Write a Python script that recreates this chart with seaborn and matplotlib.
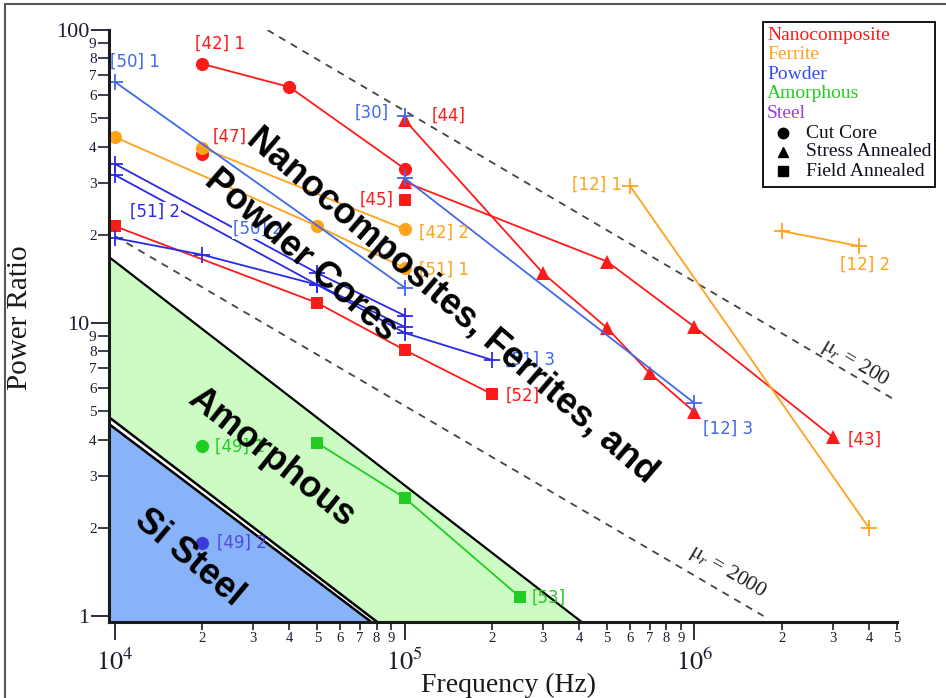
import numpy as np
import pandas as pd
import matplotlib
matplotlib.use("Agg")
import matplotlib.pyplot as plt
import seaborn as sns
from matplotlib.ticker import FixedLocator, FixedFormatter
from matplotlib.lines import Line2D
from matplotlib.patches import Rectangle

# ------------------------------------------------------------------ data
# Nanocomposite (red)
nc42_1_f = [2e4, 4e4, 1e5];            nc42_1_p = [76.6, 63.9, 33.6]
nc47_f = [2e4];                        nc47_p = [37.7]
nc43_f = [1e5, 5e5, 1e6, 3e6];         nc43_p = [30.3, 16.2, 9.7, 4.08]
nc44_f = [1e5, 3e5, 5e5, 7e5, 1e6];    nc44_p = [49.3, 14.8, 9.6, 6.75, 4.97]
nc45_f = [1e5];                        nc45_p = [26.3]
nc52_f = [1e4, 5e4, 1e5, 2e5];         nc52_p = [21.4, 11.7, 8.09, 5.72]
# Ferrite (orange)
fe42_2_f = [2e4, 1e5];                 fe42_2_p = [39.6, 20.9]
fe51_1_f = [1e4, 5e4, 1e5];            fe51_1_p = [43.1, 21.4, 15.4]
fe12_1_f = [6e5, 4e6];                 fe12_1_p = [29.3, 2.0]
fe12_2_f = [2e6, 3.7e6];               fe12_2_p = [20.6, 18.3]
# Powder (blue)
pw50_1_f = [1e4, 1e5];                 pw50_1_p = [66.5, 13.2]
pw30_f = [1e5];                        pw30_p = [50.9]
pw12_3_f = [1e5, 1e6];                 pw12_3_p = [31.2, 5.33]
pw51_2a_f = [1e4, 5e4, 1e5];           pw51_2a_p = [34.9, 14.8, 10.6]
pw50_2_f = [1e4, 5e4, 1e5];            pw50_2_p = [32.0, 13.5, 9.7]
pw51_3_f = [1e4, 2e4, 5e4, 1e5, 2e5];  pw51_3_p = [19.5, 17.1, 13.5, 9.25, 7.48]
# Amorphous (green)
am49_1_f = [2e4];                      am49_1_p = [3.8]
am53_f = [5e4, 1e5, 2.5e5];            am53_p = [3.89, 2.53, 1.16]
# Steel
st49_2_f = [2e4];                      st49_2_p = [1.78]

# Regions (boundary lines)
amorph_top_f = [9.54e3, 4.08e5];  amorph_top_p = [16.8, 0.954]
amorph_bot_f = [9.54e3, 8.04e4];  amorph_bot_p = [4.77, 0.954]
steel_top_f = [9.54e3, 7.67e4];   steel_top_p = [4.52, 0.954]

# Constant-permeability guide lines
mu200_f = [3.36e4, 4.92e6];   mu200_p = [100, 5.46]
mu2000_f = [1e4, 1.73e6];     mu2000_p = [19.8, 1.0]

# Ticks
x_major = [1e4, 1e5, 1e6]
x_major_lbl = [r"$10^{4}$", r"$10^{5}$", r"$10^{6}$"]
x_minor = [2e4, 3e4, 4e4, 5e4, 6e4, 7e4, 8e4, 9e4,
           2e5, 3e5, 4e5, 5e5, 6e5, 7e5, 8e5, 9e5,
           2e6, 3e6, 4e6, 5e6]
x_minor_lbl = ["2", "3", "4", "5", "6", "7", "8", "9",
               "2", "3", "4", "5", "6", "7", "8", "9",
               "2", "3", "4", "5"]
y_major = [1, 10, 100]
y_major_lbl = ["1", "10", "100"]
y_minor = [2, 3, 4, 5, 6, 7, 8, 9, 20, 30, 40, 50, 60, 70, 80, 90]
y_minor_lbl = ["2", "3", "4", "5", "6", "7", "8", "9"] * 2

legend_groups = ["Nanocomposite", "Ferrite", "Powder", "Amorphous", "Steel"]
legend_types = ["Cut Core", "Stress Annealed", "Field Annealed"]

# ------------------------------------------------------------------ style
sns.set_style("ticks")
plt.rcParams["font.family"] = ["DejaVu Sans"]
plt.rcParams["mathtext.fontset"] = "stix"

RED = "#ff1a1a"
ORANGE = "#ffa31a"
BLUE = "#4169e8"
DBLUE = "#2a2ae6"
GREEN = "#22cc22"
STEEL = "#3b3bdc"
SERIF = "Liberation Serif"

W, H = 946, 698
fig = plt.figure(figsize=(W / 100, H / 100), dpi=100)
AX_L, AX_R, AX_T, AX_B = 109, 897, 30, 622
ax = fig.add_axes([AX_L / W, 1 - AX_B / H, (AX_R - AX_L) / W, (AX_B - AX_T) / H])
ax.set_xscale("log")
ax.set_yscale("log")
ax.set_xlim(9.54e3, 5.0e6)
ax.set_ylim(0.954, 100)
ax.set_facecolor("white")


def P(px, py):
    """pixel -> axes fraction"""
    return ((px - AX_L) / (AX_R - AX_L), (AX_B - py) / (AX_B - AX_T))


# ------------------------------------------------------------------ regions
ax.fill(amorph_top_f + amorph_bot_f[::-1], amorph_top_p + amorph_bot_p[::-1],
        color="#ccfcc4", zorder=1, lw=0)
ax.fill(steel_top_f + [steel_top_f[0]], steel_top_p + [steel_top_p[-1]],
        color="#88b3f8", zorder=1, lw=0)
for fx, py, lw in [(amorph_top_f, amorph_top_p, 1.6),
                   (amorph_bot_f, amorph_bot_p, 1.8),
                   (steel_top_f, steel_top_p, 1.8)]:
    sns.lineplot(x=fx, y=py, color="black", lw=lw, ax=ax, sort=False,
                 estimator=None, zorder=2)

# guide lines
for fx, py in [(mu200_f, mu200_p), (mu2000_f, mu2000_p)]:
    ax.plot(fx, py, color="#444444", lw=1.3, dashes=(4, 3.5), zorder=2)


# ------------------------------------------------------------------ series
def series(f, p, color, marker, ms, mew=0.0, lw=1.3):
    df = pd.DataFrame({"f": f, "p": p})
    sns.lineplot(data=df, x="f", y="p", color=color, lw=lw, marker=marker,
                 markersize=ms, markeredgewidth=mew, markeredgecolor=color,
                 sort=False, estimator=None, ax=ax, zorder=3)


CIRC, TRI, SQ, PLUS = 9.5, 10.5, 8.3, 12
series(nc42_1_f, nc42_1_p, RED, "o", CIRC)
series(nc47_f, nc47_p, RED, "o", CIRC)
series(nc43_f, nc43_p, RED, "^", TRI)
series(nc44_f, nc44_p, RED, "^", TRI)
series(nc45_f, nc45_p, RED, "s", SQ)
series(nc52_f, nc52_p, RED, "s", SQ)
series(fe42_2_f, fe42_2_p, ORANGE, "o", CIRC)
series(fe51_1_f, fe51_1_p, ORANGE, "o", CIRC)
series(fe12_1_f, fe12_1_p, ORANGE, "+", PLUS - 1, 1.3)
series(fe12_2_f, fe12_2_p, ORANGE, "+", PLUS - 1, 1.3)
series(pw50_1_f, pw50_1_p, BLUE, "+", PLUS, 1.3)
series(pw30_f, pw30_p, BLUE, "+", PLUS, 1.3)
series(pw12_3_f, pw12_3_p, BLUE, "+", PLUS, 1.3)
series(pw51_2a_f, pw51_2a_p, DBLUE, "+", PLUS, 1.3)
series(pw50_2_f, pw50_2_p, DBLUE, "+", PLUS, 1.3)
series(pw51_3_f, pw51_3_p, DBLUE, "+", PLUS, 1.3)
series(am49_1_f, am49_1_p, GREEN, "o", CIRC)
series(am53_f, am53_p, GREEN, "s", SQ)
series(st49_2_f, st49_2_p, STEEL, "o", CIRC)

# ------------------------------------------------------------------ labels
labels = [
    ("[42] 1", 195, 44, RED, False), ("[50] 1", 110, 62, BLUE, False),
    ("[30]", 355, 113, BLUE, False), ("[44]", 432, 116, RED, False),
    ("[47]", 213, 137, RED, False), ("[45]", 360, 200, RED, False),
    ("[42] 2", 419, 233, ORANGE, False), ("[51] 1", 419, 270, ORANGE, False),
    ("[51] 2", 130, 212, DBLUE, True), ("[50] 2", 233, 229, BLUE, True),
    ("[51] 3", 505, 360, BLUE, False), ("[52]", 506, 396, RED, False),
    ("[12] 1", 572, 185, ORANGE, False), ("[12] 2", 840, 265, ORANGE, False),
    ("[12] 3", 703, 429, BLUE, False), ("[43]", 848, 440, RED, False),
    ("[49] 1", 215, 447, GREEN, False), ("[49] 2", 217, 543, "#5548e0", False),
    ("[53]", 532, 598, GREEN, False),
]
for s, px, py, c, box in labels:
    kw = {}
    if box:
        kw["bbox"] = dict(facecolor="white", edgecolor="none", pad=0.5)
    ax.text(*P(px, py), s, transform=ax.transAxes, color=c, fontsize=12,
            ha="left", va="center", zorder=4, **kw)

# guide-line labels
ax.text(*P(855, 363), r"$\mathrm{\mu}_r$ = 200", transform=ax.transAxes, fontsize=15.5,
        family=SERIF, rotation=-30.5, rotation_mode="anchor",
        ha="center", va="center", color="#222222", zorder=4)
ax.text(*P(728, 572), r"$\mathrm{\mu}_r$ = 2000", transform=ax.transAxes, fontsize=15.5,
        family=SERIF, rotation=-30.5, rotation_mode="anchor",
        ha="center", va="center", color="#222222", zorder=4)

# region titles
big = dict(transform=ax.transAxes, fontsize=26, fontweight="bold",
           family="Liberation Sans", color="black", rotation_mode="anchor",
           ha="center", va="center", zorder=6)
ax.text(*P(452, 306), "Nanocomposites, Ferrites, and", rotation=-40.5, **big)
ax.text(*P(301, 255), "Powder Cores", rotation=-41, **big)
ax.text(*P(271, 457), "Amorphous", rotation=-38.5, **big)
ax.text(*P(189, 558), "Si Steel", rotation=-40, **big)

# ------------------------------------------------------------------ axes
for side in ["top", "right"]:
    ax.spines[side].set_visible(False)
for side in ["left", "bottom"]:
    ax.spines[side].set_linewidth(2.2)
    ax.spines[side].set_color("#1a1a1a")
    ax.spines[side].set_zorder(5)

TICKC = "#1c1c30"
ax.xaxis.set_major_locator(FixedLocator(x_major))
ax.xaxis.set_major_formatter(FixedFormatter(x_major_lbl))
ax.xaxis.set_minor_locator(FixedLocator(x_minor))
ax.xaxis.set_minor_formatter(FixedFormatter(x_minor_lbl))
ax.yaxis.set_major_locator(FixedLocator(y_major))
ax.yaxis.set_major_formatter(FixedFormatter(y_major_lbl))
ax.yaxis.set_minor_locator(FixedLocator(y_minor))
ax.yaxis.set_minor_formatter(FixedFormatter(y_minor_lbl))

ax.tick_params(axis="x", which="major", direction="out", length=13, width=1.3,
               pad=6, labelsize=19, colors=TICKC)
ax.tick_params(axis="x", which="minor", direction="out", length=6, width=1.2,
               pad=1, labelsize=10.5, colors=TICKC)
ax.tick_params(axis="y", which="major", direction="out", length=13, width=1.3,
               pad=1, labelsize=16, colors=TICKC)
ax.tick_params(axis="y", which="minor", direction="out", length=8, width=1.2,
               pad=1, labelsize=11, colors=TICKC)
for lab in ax.get_xticklabels(which="both") + ax.get_yticklabels(which="both"):
    lab.set_family(SERIF)

ax.set_xlabel("")
ax.set_ylabel("")
fig.text(20 / W, 1 - 318 / H, "Power Ratio", rotation=90, fontsize=21,
         family=SERIF, ha="center", va="center", color="#1a1a1a")
fig.text(508 / W, 1 - 685 / H, "Frequency (Hz)", fontsize=20,
         family=SERIF, ha="center", va="center", color="#1a1a1a")

# ------------------------------------------------------------------ legend box
def F(px, py):
    return (px / W, 1 - py / H)


fig.add_artist(Rectangle(F(763, 187), (935 - 763) / W, (187 - 22) / H,
                         transform=fig.transFigure, facecolor="white",
                         edgecolor="black", lw=1.3, zorder=10))
grp_colors = [RED, ORANGE, "#2f4bff", GREEN, "#9a3cf0"]
for i, (g, c) in enumerate(zip(legend_groups, grp_colors)):
    fig.text(*F(767, 35 + i * 19.6), g, color=c, fontsize=14, family=SERIF,
             ha="left", va="center", zorder=11)
for i, (t, m) in enumerate(zip(legend_types, ["o", "^", "s"])):
    y = 133 + i * 19
    fig.add_artist(Line2D([F(783, y)[0]], [F(783, y)[1]], marker=m, color="black",
                          markersize=7.5 if m != "s" else 7, ls="none",
                          transform=fig.transFigure, zorder=11))
    fig.text(*F(806, y), t, color="#111122", fontsize=14, family=SERIF,
             ha="left", va="center", zorder=11)

# outer frame
fig.add_artist(Line2D([F(5, 4)[0], F(5, 700)[0]], [F(5, 4)[1], F(5, 700)[1]],
                      color="#555555", lw=1.5, transform=fig.transFigure))
fig.add_artist(Line2D([F(5, 4)[0], F(946, 4)[0]], [F(5, 4)[1], F(5, 4)[1]],
                      color="#555555", lw=1.5, transform=fig.transFigure))

fig.savefig("out.png", dpi=100, facecolor="white")
